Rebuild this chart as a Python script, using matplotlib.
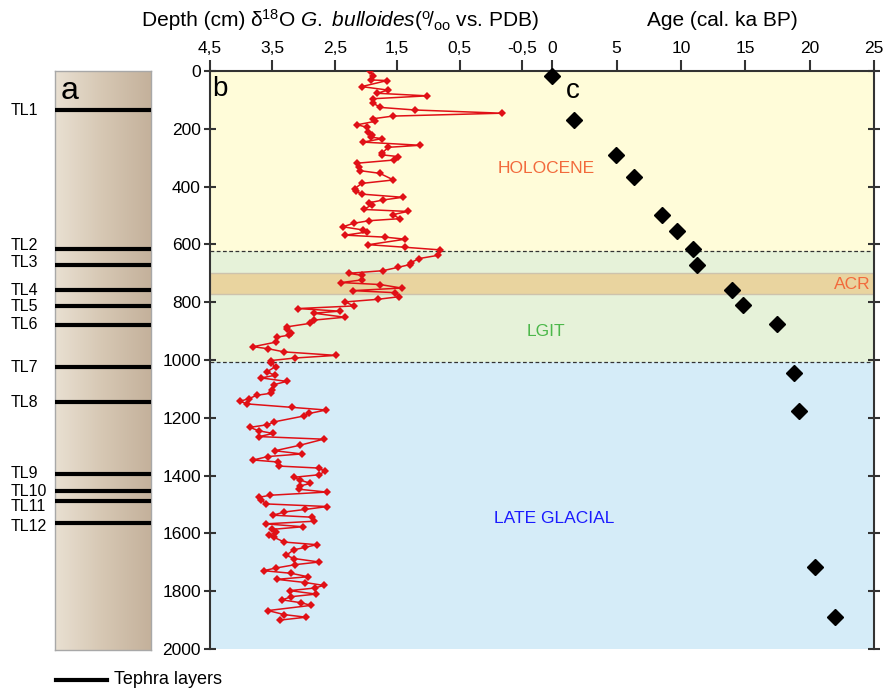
import numpy as np
import matplotlib
matplotlib.use('Agg')
import matplotlib.pyplot as plt
import matplotlib.transforms as mtransforms
from matplotlib.lines import Line2D
from matplotlib.colors import LinearSegmentedColormap

plt.rcParams['font.family'] = ['Liberation Sans', 'DejaVu Sans']
plt.rcParams['mathtext.fontset'] = 'custom'
plt.rcParams['mathtext.rm'] = 'Liberation Sans'
plt.rcParams['mathtext.it'] = 'Liberation Sans:italic'
plt.rcParams['mathtext.bf'] = 'Liberation Sans:bold'

# ---------------- data ----------------
iso_depth = [0, 17, 31, 33, 54, 66, 77, 86, 96, 112, 126, 135, 146, 156, 165, 174, 186, 195,
             211, 220, 229, 234, 246, 257, 264, 283, 290, 296, 308, 319, 331, 345, 354, 377,
             389, 407, 416, 426, 437, 446, 456, 463, 479, 486, 497, 511, 518, 527, 539, 550,
             557, 568, 575, 582, 601, 610, 619, 638, 649, 663, 670, 679, 691, 700, 707, 723,
             732, 739, 751, 760, 767, 781, 790, 799, 813, 822, 831, 838, 852, 862, 873, 885,
             894, 905, 914, 921, 938, 954, 961, 972, 984, 993, 1002, 1011, 1023, 1041, 1053,
             1062, 1074, 1085, 1104, 1115, 1122, 1134, 1143, 1152, 1164, 1173, 1185, 1194,
             1214, 1224, 1233, 1245, 1254, 1265, 1274, 1295, 1314, 1325, 1334, 1346, 1353,
             1367, 1374, 1385, 1397, 1406, 1415, 1427, 1436, 1447, 1457, 1468, 1475, 1484,
             1498, 1507, 1517, 1526, 1537, 1544, 1558, 1567, 1577, 1586, 1595, 1607, 1614,
             1630, 1639, 1648, 1657, 1676, 1687, 1699, 1708, 1720, 1729, 1738, 1750, 1759,
             1770, 1780, 1789, 1798, 1810, 1819, 1830, 1840, 1849, 1867, 1881, 1890, 1900]
iso_d18o = [1.94, 1.88, 1.92, 1.66, 2.07, 1.65, 1.82, 1.02, 1.89, 1.88, 1.77, 1.21, -0.18, 1.57,
            1.88, 1.85, 2.14, 1.98, 1.96, 1.90, 1.92, 1.74, 2.05, 1.13, 1.64, 1.74, 1.75, 1.49,
            1.55, 2.14, 2.11, 2.09, 1.78, 1.56, 2.07, 2.18, 2.16, 2.07, 1.41, 1.72, 1.95, 1.90,
            2.04, 1.33, 1.57, 1.46, 1.95, 2.20, 2.37, 2.05, 1.98, 2.33, 1.69, 1.37, 1.96, 1.37,
            0.81, 0.85, 1.15, 1.28, 1.30, 1.48, 1.73, 2.28, 2.07, 2.07, 2.40, 1.77, 1.43, 2.21,
            1.54, 1.47, 1.81, 2.33, 2.20, 3.09, 2.42, 2.84, 2.34, 2.84, 2.89, 3.26, 3.26, 3.20,
            3.23, 3.43, 3.44, 3.81, 3.57, 3.31, 2.48, 3.13, 3.53, 3.52, 3.45, 3.59, 3.46, 3.68,
            3.27, 3.47, 3.50, 3.52, 3.75, 3.88, 4.02, 3.90, 3.19, 2.64, 2.91, 3.00, 3.47, 3.58,
            3.86, 3.72, 3.49, 3.71, 2.68, 3.06, 3.46, 3.03, 3.57, 3.81, 3.41, 3.40, 2.75, 2.66,
            2.75, 3.16, 3.06, 2.89, 3.06, 3.08, 2.63, 3.54, 3.71, 3.68, 3.60, 2.62, 2.97, 3.31,
            3.49, 2.86, 2.84, 3.61, 3.01, 3.50, 3.44, 3.55, 3.47, 3.31, 2.79, 2.97, 3.16, 3.28,
            3.15, 2.75, 3.13, 3.45, 3.64, 3.20, 2.93, 3.43, 2.97, 2.68, 2.82, 3.22, 2.80, 3.20,
            3.34, 3.04, 2.88, 3.57, 3.31, 2.96, 3.38]

age_depth = [17, 170, 290, 368, 497, 553, 617, 670, 758, 811, 875, 1044, 1177, 1715, 1890]
age_ka = [0.0, 1.69, 4.92, 6.35, 8.55, 9.69, 10.9, 11.27, 13.96, 14.79, 17.43, 18.78, 19.19,
          20.39, 21.94]

tephra_names = ['TL1', 'TL2', 'TL3', 'TL4', 'TL5', 'TL6', 'TL7', 'TL8', 'TL9', 'TL10',
                'TL11', 'TL12']
tephra_depth = [135, 616, 671, 758, 812, 877, 1023, 1144, 1392, 1452, 1487, 1563]

period_names = ['HOLOCENE', 'LGIT', 'ACR', 'LATE GLACIAL']
period_top = [0, 622, 700, 1008]
period_bottom = [622, 1008, 772, 2000]

depth_ticks = list(range(0, 2001, 200))
d18o_ticks = [4.5, 3.5, 2.5, 1.5, 0.5, -0.5]
d18o_ticklabels = ['4,5', '3,5', '2,5', '1,5', '0,5', '-0,5']
age_ticks = [0, 5, 10, 15, 20, 25]

# ---------------- layout ----------------
W, H = 886, 689
fig = plt.figure(figsize=(W / 100, H / 100), dpi=100)


def fx(px):
    return px / W


def fy(py):
    return 1 - py / H


Y0, Y1 = 71, 649
ybot, yh = fy(Y1), fy(Y0) - fy(Y1)
TICKFS = 12.5

# main background axes
ax = fig.add_axes([fx(210), ybot, fx(874) - fx(210), yh])
ax.set_xlim(0, 1)
ax.set_ylim(2000, 0)
band_fc = {'HOLOCENE': '#fffcd9', 'LGIT': '#e6f2d9', 'ACR': '#e9d49f', 'LATE GLACIAL': '#d5ecf8'}
order = ['HOLOCENE', 'LGIT', 'LATE GLACIAL', 'ACR']
for name in order:
    i = period_names.index(name)
    if name == 'ACR':
        ax.axhspan(period_top[i], period_bottom[i], facecolor=band_fc[name],
                   edgecolor='#cdc3ad', lw=1.0, zorder=1)
    else:
        ax.axhspan(period_top[i], period_bottom[i], facecolor=band_fc[name], lw=0, zorder=0)
for d in [period_bottom[0], period_bottom[1]]:
    ax.axhline(d, ls=(0, (3, 2)), color='#333333', lw=0.9, zorder=2)

for s in ['left', 'right', 'top']:
    ax.spines[s].set_color('#333333')
    ax.spines[s].set_linewidth(1.5)
ax.spines['bottom'].set_visible(False)
ax.set_yticks(depth_ticks)
ax.set_yticklabels([str(t) for t in depth_ticks], fontsize=TICKFS)
ax.tick_params(axis='y', which='both', direction='inout', length=9, width=1.5,
               color='#333333', left=True, right=True, labelleft=True, labelright=False, pad=2)
ax.set_xticks([])

ax.text(0.506, 339, 'HOLOCENE', color='#f26a3c', fontsize=12.5, ha='center', va='center')
ax.text(0.506, 900, 'LGIT', color='#4cb84a', fontsize=12.5, ha='center', va='center')
ax.text(0.995, 738, 'ACR', color='#f26a3c', fontsize=12.5, ha='right', va='center')
ax.text(0.518, 1550, 'LATE GLACIAL', color='#1a1aff', fontsize=12.5, ha='center', va='center')

# panel b
axb = fig.add_axes([fx(210), ybot, fx(522) - fx(210), yh])
axb.patch.set_visible(False)
for s in axb.spines.values():
    s.set_visible(False)
axb.set_xlim(4.5, -0.5)
axb.set_ylim(2000, 0)
axb.plot(iso_d18o, iso_depth, color='#e01016', lw=1.1, marker='D', ms=4,
         markeredgewidth=0, zorder=3)
axb.xaxis.set_ticks_position('top')
axb.set_xticks(d18o_ticks)
axb.set_xticklabels(d18o_ticklabels, fontsize=TICKFS)
axb.tick_params(axis='x', direction='out', length=8, width=1.5, color='#333333', pad=3)
axb.set_yticks([])

# panel c
axc = fig.add_axes([fx(552.3), ybot, fx(874) - fx(552.3), yh])
axc.patch.set_visible(False)
for s in axc.spines.values():
    s.set_visible(False)
axc.set_xlim(0, 25)
axc.set_ylim(2000, 0)
axc.plot(age_ka, age_depth, ls='none', marker='D', ms=8, color='black', clip_on=False, zorder=4)
axc.xaxis.set_ticks_position('top')
axc.set_xticks(age_ticks)
axc.set_xticklabels([str(t) for t in age_ticks], fontsize=TICKFS)
axc.tick_params(axis='x', direction='out', length=8, width=1.5, color='#333333', pad=3)
axc.set_yticks([])

# panel a: core
axa = fig.add_axes([fx(55), fy(650), fx(151) - fx(55), fy(71) - fy(650)])
grad = np.linspace(0, 1, 256).reshape(1, -1)
cmap = LinearSegmentedColormap.from_list('core', ['#e9e0d2', '#d6c7b3', '#c4b19b'])
axa.imshow(grad, cmap=cmap, aspect='auto', extent=(0, 1, 2000, 0))
axa.set_xlim(0, 1)
axa.set_ylim(2000, 0)
for d in tephra_depth:
    axa.axhline(d, color='black', lw=3.0, zorder=3)
axa.set_xticks([])
axa.set_yticks([])
for s in axa.spines.values():
    s.set_color('#a8a8a8')
    s.set_linewidth(1.0)

nudge = {'TL2': 4, 'TL3': 3, 'TL11': -5, 'TL12': -3}
trans_lab = mtransforms.blended_transform_factory(fig.transFigure, axa.transData)
for name, d in zip(tephra_names, tephra_depth):
    off = mtransforms.ScaledTranslation(0, nudge.get(name, 0) / 100, fig.dpi_scale_trans)
    fig.text(fx(11), d, name, transform=trans_lab + off, fontsize=11.5,
             ha='left', va='center')

# panel letters
fig.text(fx(61), fy(91), 'a', fontsize=23, ha='left', va='center')
fig.text(fx(212), fy(89), 'b', fontsize=20, ha='left', va='center')
fig.text(fx(566), fy(91), 'c', fontsize=20, ha='left', va='center')

# titles
fig.text(fx(142), fy(20), 'Depth (cm)', fontsize=15, ha='left', va='center')
fig.text(fx(250), fy(20),
         r'δ$^{\mathrm{18}}$O $\mathit{G.\ bulloides}$($^{\mathrm{o}}\!/_{\mathrm{oo}}$ vs. PDB)',
         fontsize=15, ha='left', va='center')
fig.text(fx(722), fy(20), 'Age (cal. ka BP)', fontsize=15, ha='center', va='center')

# legend
fig.add_artist(Line2D([fx(56), fx(107)], [fy(680), fy(680)], color='black', lw=3,
                      transform=fig.transFigure))
fig.text(fx(114), fy(680), 'Tephra layers', fontsize=13, ha='left', va='center')

fig.savefig('out.png', dpi=100)
